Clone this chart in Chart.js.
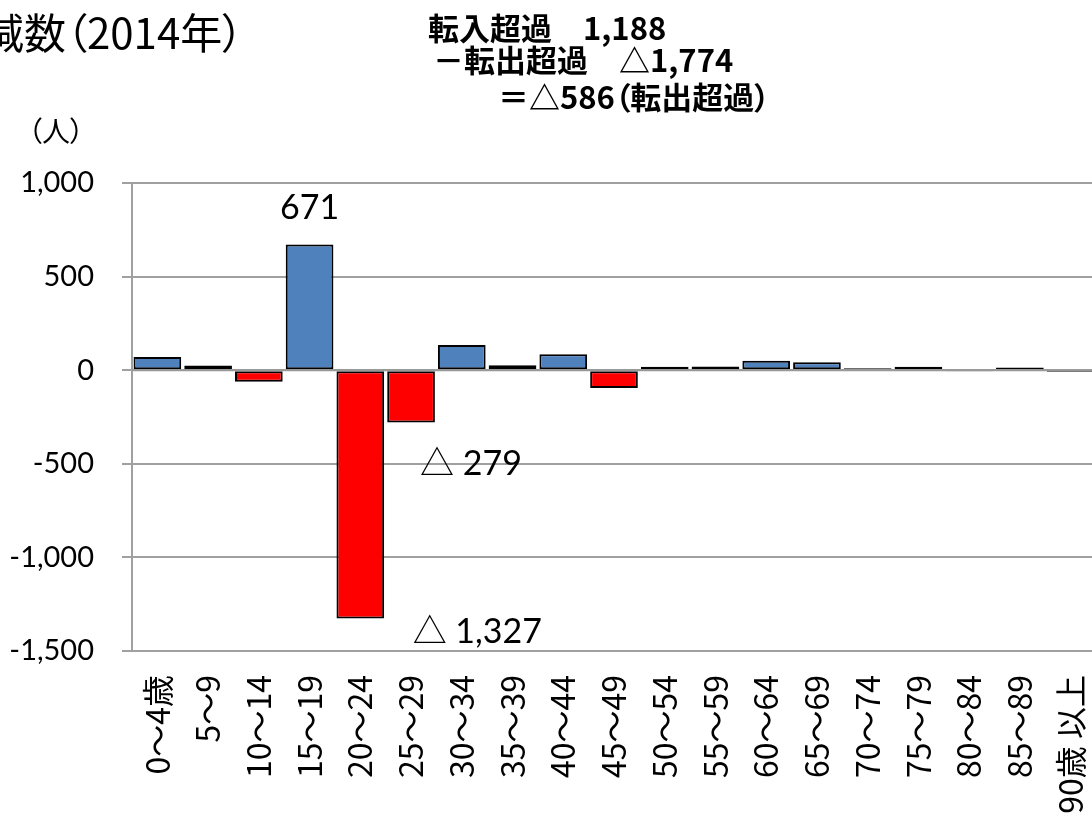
<!DOCTYPE html>
<html lang="ja">
<head>
<meta charset="utf-8">
<script src="https://cdn.jsdelivr.net/npm/chart.js"></script>
<style>
  html, body { margin: 0; padding: 0; background: #fff; overflow: hidden; }
  #wrap { position: relative; width: 1092px; height: 824px; overflow: hidden; }
  #chart { position: absolute; left: 0; top: 0; }
  .txt { position: absolute; white-space: pre; color: #000; font-family: 'Noto Sans CJK JP', sans-serif; font-feature-settings: "palt"; }
  #title { left: -18px; top: 8px; font-size: 42px; line-height: 46px; }
  #unit { left: 28px; top: 114px; font-size: 28px; line-height: 32px; }
  .note { font-size: 31px; line-height: 34px; font-weight: bold; }
</style>
</head>
<body>
<div id="wrap">
  <canvas id="chart" width="1096" height="824"></canvas>
  <div class="txt" id="title">減数（2014年）</div>
  <div class="txt" id="unit">（人）</div>
  <div class="txt note" style="left:428px; top:10px;">転入超過　1,188</div>
  <div class="txt note" style="left:433px; top:42px;">－転出超過　△1,774</div>
  <div class="txt note" style="left:498px; top:79px;">＝△586（転出超過）</div>
</div>
<script>
// 年齢階級別 転入超過(+)・転出超過(-)
const ageGroups = ['0～4歳', '5～9', '10～14', '15～19', '20～24', '25～29', '30～34', '35～39',
    '40～44', '45～49', '50～54', '55～59', '60～64', '65～69', '70～74', '75～79', '80～84', '85～89', '90歳 以上'];
const netMigration = [70, 25, -62, 671, -1327, -279, 135, 26, 85, -95, 18, 20, 51, 43, 10, 18, -2, 15, -9];
const yTicks = [1000, 500, 0, -500, -1000, -1500];

// ラベルを付ける棒と、その位置のずらし方
const labelled = [3, 5, 4];
const labelShift = {
    3: { dx: 0, dy: -37 },
    5: { dx: 60, dy: 42 },
    4: { dx: 117, dy: 13 }
};

const fmt = v => v < 0 ? '△ ' + Math.abs(v).toLocaleString('en-US') : v.toLocaleString('en-US');

const extras = {
    id: 'extras',
    afterDatasetsDraw(chart) {
        const ctx = chart.ctx;
        const x = chart.scales.x, y = chart.scales.y;
        const area = chart.chartArea;
        // 0 の線
        ctx.save();
        ctx.strokeStyle = '#999';
        ctx.lineWidth = 2;
        ctx.beginPath();
        ctx.moveTo(area.left, y.getPixelForValue(0));
        ctx.lineTo(area.right, y.getPixelForValue(0));
        ctx.stroke();
        // データラベル
        ctx.fillStyle = '#000';
        ctx.font = '34px Lato, "Noto Sans CJK JP", sans-serif';
        ctx.textAlign = 'center';
        ctx.textBaseline = 'middle';
        labelled.forEach(i => {
            const v = netMigration[i];
            const s = labelShift[i];
            ctx.fillText(fmt(v), x.getPixelForValue(i) + s.dx, y.getPixelForValue(v) + s.dy);
        });
        ctx.restore();
    }
};

new Chart(document.getElementById('chart'), {
    type: 'bar',
    data: {
        labels: ageGroups,
        datasets: [{
            data: netMigration,
            backgroundColor: netMigration.map(v => v < 0 ? '#FF0000' : '#4F81BD'),
            borderColor: '#000',
            borderWidth: 2,
            borderSkipped: false,
            barPercentage: 0.94,
            categoryPercentage: 1
        }]
    },
    options: {
        responsive: false,
        animation: false,
        layout: { padding: { top: 183, left: 0, right: 0, bottom: 0 } },
        plugins: {
            legend: { display: false },
            tooltip: { enabled: false }
        },
        scales: {
            x: {
                grid: { display: false, drawTicks: false },
                border: { display: false },
                ticks: {
                    color: '#000',
                    font: { family: '"Noto Sans CJK JP"', size: 32 },
                    minRotation: 90,
                    maxRotation: 90,
                    autoSkip: false,
                    padding: 24
                },
                afterFit: s => {
                    s.height = 173;
                    s.paddingLeft = 0;
                    s.paddingRight = 0;
                }
            },
            y: {
                min: -1500,
                max: 1000,
                afterBuildTicks: s => { s.ticks = yTicks.map(v => ({ value: v })); },
                grid: { color: '#a0a0a0', lineWidth: 2, tickLength: 10 },
                border: { color: '#a0a0a0', width: 2 },
                ticks: {
                    color: '#000',
                    font: { family: 'Lato, sans-serif', size: 29 },
                    padding: 28,
                    callback: v => v.toLocaleString('en-US')
                },
                afterFit: s => { s.width = 132; }
            }
        }
    },
    plugins: [extras]
});
</script>
</body>
</html>
